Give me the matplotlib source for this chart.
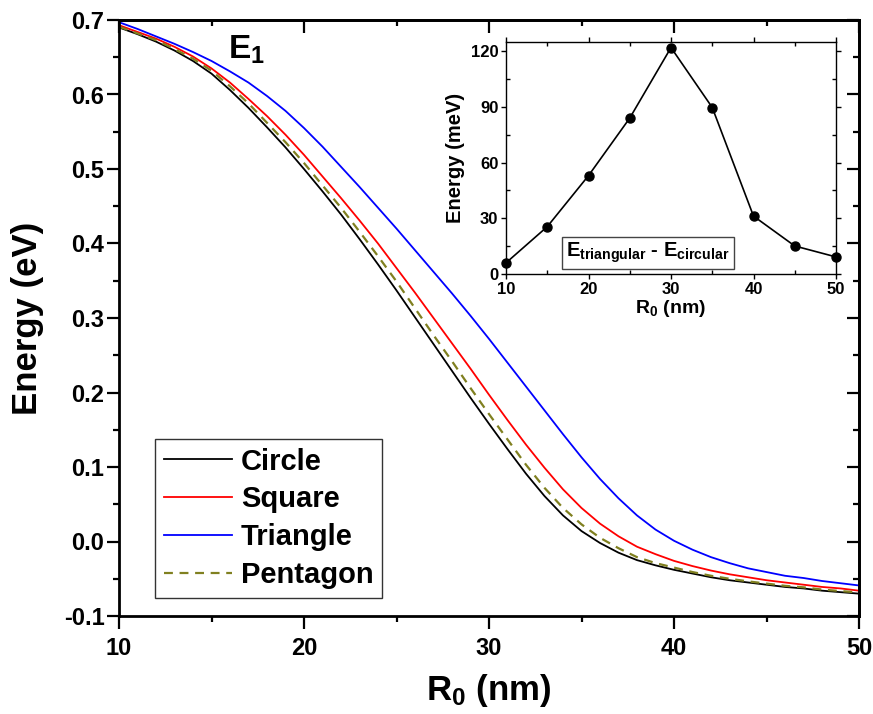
import matplotlib
matplotlib.use("Agg")
import matplotlib.pyplot as plt
from matplotlib.ticker import MultipleLocator, FormatStrFormatter

plt.rcParams['font.family'] = ['Liberation Sans', 'DejaVu Sans']
plt.rcParams['font.weight'] = 'bold'
plt.rcParams['mathtext.fontset'] = 'custom'
plt.rcParams['mathtext.rm'] = 'Liberation Sans:bold'
plt.rcParams['mathtext.bf'] = 'Liberation Sans:bold'
plt.rcParams['mathtext.it'] = 'Liberation Sans:bold'

# Ground-state energy E1 (eV) versus dot radius R0 (nm)
radius = [10, 11, 12, 13, 14, 15, 16, 17, 18, 19, 20, 21, 22, 23, 24, 25, 26, 27, 28, 29, 30,
          31, 32, 33, 34, 35, 36, 37, 38, 39, 40, 41, 42, 43, 44, 45, 46, 47, 48, 49, 50]
circle = [0.690, 0.681, 0.671, 0.659, 0.645, 0.628, 0.606, 0.582, 0.556, 0.529, 0.500,
          0.470, 0.439, 0.406, 0.372, 0.337, 0.301, 0.265, 0.229, 0.193, 0.158,
          0.124, 0.091, 0.061, 0.035, 0.014, -0.002, -0.015, -0.025, -0.032, -0.038,
          -0.043, -0.048, -0.052, -0.055, -0.058, -0.061, -0.063, -0.066, -0.068, -0.070]
square = [0.693, 0.684, 0.675, 0.664, 0.651, 0.635, 0.616, 0.594, 0.571, 0.546, 0.519,
          0.490, 0.461, 0.431, 0.400, 0.367, 0.334, 0.300, 0.266, 0.232, 0.197,
          0.163, 0.130, 0.099, 0.070, 0.045, 0.024, 0.007, -0.007, -0.017, -0.026,
          -0.033, -0.039, -0.044, -0.048, -0.052, -0.055, -0.058, -0.061, -0.063, -0.066]
triangle = [0.697, 0.688, 0.678, 0.668, 0.657, 0.645, 0.631, 0.616, 0.598, 0.578, 0.555,
            0.530, 0.503, 0.476, 0.448, 0.420, 0.391, 0.362, 0.333, 0.303, 0.272,
            0.240, 0.208, 0.176, 0.144, 0.113, 0.084, 0.058, 0.035, 0.016, 0.001,
            -0.011, -0.021, -0.029, -0.036, -0.041, -0.046, -0.049, -0.053, -0.056, -0.059]
pentagon = [0.691, 0.682, 0.673, 0.661, 0.648, 0.632, 0.611, 0.588, 0.562, 0.536, 0.508,
            0.478, 0.448, 0.416, 0.383, 0.349, 0.313, 0.277, 0.242, 0.206, 0.171,
            0.137, 0.103, 0.072, 0.045, 0.023, 0.005, -0.009, -0.021, -0.029, -0.035,
            -0.041, -0.046, -0.050, -0.0535, -0.0565, -0.0595, -0.0615, -0.0645, -0.0665, -0.0685]

# Energy difference E_triangular - E_circular (meV)
diff_radius = [10, 15, 20, 25, 30, 35, 40, 45, 50]
diff_mev = [6, 25.5, 53, 84, 122, 89.7, 31.2, 15.1, 9.2]

fig = plt.figure(figsize=(8.73, 7.14), dpi=100)
ax = fig.add_axes([119 / 873, 1 - 616 / 714, 740 / 873, 596 / 714])

ax.plot(radius, circle, color='black', lw=1.3, label='Circle')
ax.plot(radius, square, color='#ff0000', lw=1.3, label='Square')
ax.plot(radius, triangle, color='#0000ff', lw=1.3, label='Triangle')
ax.plot(radius, pentagon, color='#808020', lw=1.6, ls=(0, (4, 3)), label='Pentagon')

ax.set_xlim(10, 50)
ax.set_ylim(-0.1, 0.7)
ax.xaxis.set_major_locator(MultipleLocator(10))
ax.xaxis.set_minor_locator(MultipleLocator(5))
ax.yaxis.set_major_locator(MultipleLocator(0.1))
ax.yaxis.set_minor_locator(MultipleLocator(0.05))
ax.yaxis.set_major_formatter(FormatStrFormatter('%.1f'))
for s in ax.spines.values():
    s.set_linewidth(2.0)
ax.tick_params(which='major', direction='out', length=9, width=1.6, labelsize=17)
ax.tick_params(axis='x', which='major', pad=6)
ax.tick_params(axis='y', which='major', pad=1.5)
ax.tick_params(which='minor', direction='out', length=4.5, width=1.6)
for lab in ax.get_xticklabels() + ax.get_yticklabels():
    lab.set_fontweight('bold')

# Inward ticks on the top and right edges
top = ax.secondary_xaxis('top')
top.xaxis.set_major_locator(MultipleLocator(10))
top.xaxis.set_minor_locator(MultipleLocator(5))
top.tick_params(which='major', direction='in', length=9, width=1.6, labeltop=False)
top.tick_params(which='minor', direction='in', length=4.5, width=1.6)
top.spines['top'].set_linewidth(2.0)
right = ax.secondary_yaxis('right')
right.yaxis.set_major_locator(MultipleLocator(0.1))
right.yaxis.set_minor_locator(MultipleLocator(0.05))
right.tick_params(which='major', direction='in', length=9, width=1.6, labelright=False)
right.tick_params(which='minor', direction='in', length=4.5, width=1.6)
right.spines['right'].set_linewidth(2.0)

ax.set_xlabel(r'$\mathbf{R_0}$ (nm)', fontsize=25, fontweight='bold', labelpad=9)
ax.set_ylabel('Energy (eV)', fontsize=25, fontweight='bold', labelpad=14)

ax.text(0.147, 0.95, r'$\mathbf{E_1}$', transform=ax.transAxes, fontsize=24,
        fontweight='bold', va='center', ha='left')

leg = ax.legend(loc='lower left', bbox_to_anchor=(0.0486, 0.0302), borderaxespad=0,
                fancybox=False, frameon=True, edgecolor='black',
                handlelength=2.35, handletextpad=0.3, labelspacing=0.34, borderpad=0.3,
                prop={'weight': 'bold', 'size': 21})
leg.get_frame().set_linewidth(1.0)

# Inset: difference between triangular and circular dots
ins = fig.add_axes([506 / 873, 1 - 274 / 714, 330 / 873, 232 / 714])
ins.plot(diff_radius, diff_mev, color='black', lw=1.2, marker='o', ms=6.5, clip_on=False)
ins.set_xlim(10, 50)
ins.set_ylim(0, 125)
ins.xaxis.set_major_locator(MultipleLocator(10))
ins.xaxis.set_minor_locator(MultipleLocator(5))
ins.yaxis.set_major_locator(MultipleLocator(30))
ins.yaxis.set_minor_locator(MultipleLocator(15))
for s in ins.spines.values():
    s.set_linewidth(1.0)
ins.tick_params(which='major', direction='out', length=3.5, width=1.0, labelsize=12, pad=2)
ins.tick_params(which='minor', direction='in', length=3, width=1.0)
ins.tick_params(which='both', top=True, right=True)
for lab in ins.get_xticklabels() + ins.get_yticklabels():
    lab.set_fontweight('bold')
ins.set_xlabel(r'$\mathbf{R_0}$ (nm)', fontsize=14, fontweight='bold', labelpad=1)
ins.set_ylabel('Energy (meV)', fontsize=14.5, fontweight='bold', labelpad=4)
ins.text(0.43, 0.09, r'$\mathbf{E_{triangular}}$ - $\mathbf{E_{circular}}$', transform=ins.transAxes,
         fontsize=14.5, fontweight='bold', ha='center', va='center',
         bbox=dict(boxstyle='square,pad=0.2', facecolor='white', edgecolor='#444444', lw=1.0))

fig.savefig('out.png', dpi=100)
